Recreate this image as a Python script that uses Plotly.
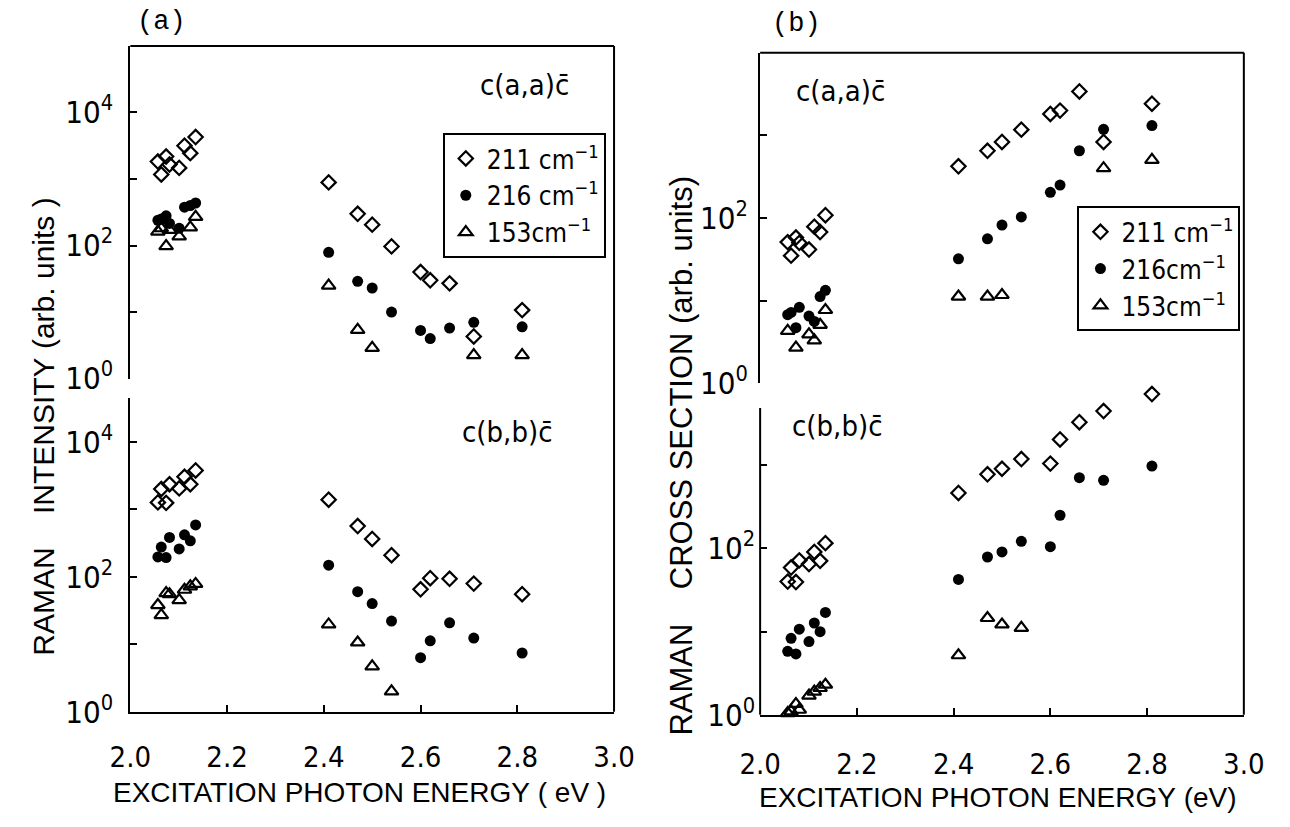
import plotly.graph_objects as go

W, H = 1290, 827

# Excitation energies (eV): dye-laser lines and ion-laser lines
dye_ev = [2.057, 2.064, 2.074, 2.081, 2.101, 2.112, 2.124, 2.135]
ion_ev = [2.41, 2.47, 2.50, 2.54, 2.60, 2.62, 2.66, 2.71, 2.81]

# (a) Raman intensity, c(a,a)c-bar
int_aa_211 = [1830, 1170, 2180, 1650, 1470, 3170, 2450, 4270] + [890, 300, 206, 97, 40, 30, 27, 4.3, 10.7]
int_aa_216 = [240, 250, 280, 215, 182, 377, 400, 436] + [79, 29, 23, 10, 5.3, 4.0, 5.75, 7.0, 6.0]
int_aa_153 = [162, 182, 98, 172, 137, None, 188, 270] + [25, 5.4, 2.9, None, None, None, None, 2.25, 2.25]

# (a) Raman intensity, c(b,b)c-bar
int_bb_211 = [1260, 1990, 1240, 2340, 2030, 3020, 2340, 3750] + [1380, 563, 362, 208, 65, 95, 93, 79, 55]
int_bb_216 = [196, 274, 192, 382, 258, 417, 340, 585] + [148, 60, 40, 22, 6.3, 11.2, 20.7, 12.3, 7.4]
int_bb_153 = [38, 27, 57, 55, 45, 64, 72, 78] + [19.6, 10.6, 4.7, 2.0, None, None, None, None, None]

# (b) Raman cross section, c(a,a)c-bar
cs_aa_211 = [51, 35, 58, 50, 41.5, 78.5, 67.5, 108] + [422, 650, 830, 1170, 1810, 1990, 3390, 830, 2410]
cs_aa_216 = [6.75, 7.2, 4.7, 8.3, 6.5, 5.6, 11.2, 13.3] + [32, 56, 82, 103, 204, 250, 650, 1180, 1310]
cs_aa_153 = [4.3, None, 2.7, None, 3.9, 3.3, 5.1, 7.7] + [11.2, 11.2, 11.7, None, None, None, None, 400, 505]

# (b) Raman cross section, c(b,b)c-bar
cs_bb_211 = [40, 59, 39.5, 72, 65, 91, 71, 116] + [465, 780, 910, 1190, 1050, 2050, 3300, 4500, 7200]
cs_bb_216 = [5.8, 8.3, 5.4, 10.7, 7.6, 12.7, 10, 17] + [42.5, 79, 91, 122, 105, 251, 710, 660, 980]
cs_bb_153 = [1.05, 1.1, 1.35, 1.15, 1.7, 1.9, 2.1, 2.3] + [5.2, 14.6, 12.2, 11.1, None, None, None, None, None]

energy_ev = dye_ev + ion_ev

x_ticks = [2.0, 2.2, 2.4, 2.6, 2.8, 3.0]
x_ticktext = ["2.0", "2.2", "2.4", "2.6", "2.8", "3.0"]
major_vals = [1, 100, 10000]
major_text = ["10<sup>0</sup>", "10<sup>2</sup>", "10<sup>4</sup>"]
minor_vals = [10, 1000]

mode_names = {"211": "211 cm<sup>\u22121</sup>", "216": "216 cm<sup>\u22121</sup>", "153": "153cm<sup>\u22121</sup>"}
mode_names_b = {"211": "211 cm<sup>\u22121</sup>", "216": "216cm<sup>\u22121</sup>", "153": "153cm<sup>\u22121</sup>"}

NARROW = "Liberation Sans Narrow, DejaVu Sans Condensed, Arial Narrow, Liberation Sans, sans-serif"
WIDE = "Liberation Sans, Arial, DejaVu Sans, sans-serif"
MONO = "Liberation Mono, DejaVu Sans Mono, monospace"
INK = "black"


def fx(p):
    return p / W


def fy(p):
    return 1 - p / H


# frame geometry in pixels: (left, right) and (top, bottom, px per decade)
A_X = (113, 613)
B_X = (764, 1264)
A_UP = (47, 387, 68.0)
A_LO = (407, 727.5, 69.0)
B_UP = (53.8, 391.8, 84.5)
B_LO = (395, 730.7, 85.0)   # plotting area reaches above the drawn axis line
B_LO_LINE_TOP = 417

fig = go.Figure()

markers = {
    "211": dict(symbol="diamond-open", size=11, color=INK, line=dict(width=2.2, color=INK)),
    "216": dict(symbol="circle", size=11, color=INK, line=dict(width=0, color=INK)),
    "153": dict(symbol="triangle-up-open", size=12, color=INK, line=dict(width=2.2, color=INK)),
}

panels = [
    ("x2", "y2", [("211", int_aa_211), ("216", int_aa_216), ("153", int_aa_153)], "legend", mode_names),
    ("x", "y", [("211", int_bb_211), ("216", int_bb_216), ("153", int_bb_153)], None, mode_names),
    ("x4", "y4", [("211", cs_aa_211), ("216", cs_aa_216), ("153", cs_aa_153)], "legend2", mode_names_b),
    ("x3", "y3", [("211", cs_bb_211), ("216", cs_bb_216), ("153", cs_bb_153)], None, mode_names_b),
]

for xa, ya, series, leg, names in panels:
    for key, vals in series:
        fig.add_trace(go.Scatter(
            x=energy_ev, y=vals, mode="markers", xaxis=xa, yaxis=ya,
            marker=markers[key], name=names[key],
            showlegend=leg is not None, legend=leg if leg else "legend",
            cliponaxis=False,
        ))


def xaxis(dom, show, anchor, standoff=20):
    d = dict(domain=[fx(dom[0]), fx(dom[1])], range=[2.0, 3.0], anchor=anchor,
             showgrid=False, zeroline=False)
    if show:
        d.update(showline=True, linewidth=2, linecolor=INK, ticks="inside", ticklen=7,
                 tickwidth=2, tickcolor=INK, tickvals=x_ticks, ticktext=x_ticktext,
                 tickfont=dict(family=NARROW, size=29, color=INK), ticklabelstandoff=standoff)
    else:
        d.update(showline=False, showticklabels=False, ticks="")
    return d


def yaxis(geom, anchor, vals, text, standoff, line=True):
    top, bot, dec = geom
    span = (bot - top) / dec
    return dict(type="log", domain=[fy(bot), fy(top)], range=[0, span], anchor=anchor,
                showgrid=False, zeroline=False, showline=line, linewidth=2, linecolor=INK,
                ticks="inside", ticklen=7, tickwidth=2, tickcolor=INK,
                tickmode="array", tickvals=vals, ticktext=text,
                minor=dict(tickmode="array", tickvals=minor_vals, ticks="inside", ticklen=7,
                           tickwidth=2, tickcolor=INK, showgrid=False),
                tickfont=dict(family=NARROW, size=31, color=INK), ticklabelstandoff=standoff)


legend_style = dict(xanchor="left", yanchor="top", bordercolor=INK, borderwidth=2,
                    bgcolor="white", font=dict(family=NARROW, size=26, color=INK),
                    tracegroupgap=0, itemwidth=32)

fig.update_layout(
    width=W, height=H, margin=dict(l=0, r=0, t=0, b=0),
    paper_bgcolor="white", plot_bgcolor="rgba(0,0,0,0)",
    xaxis=xaxis(A_X, True, "y", 19),
    xaxis2=dict(xaxis(A_X, False, "y2"), matches="x"),
    xaxis3=xaxis(B_X, True, "y3", 22),
    xaxis4=dict(xaxis(B_X, False, "y4"), matches="x3"),
    yaxis=yaxis(A_LO, "x", major_vals, major_text, 9),
    yaxis2=yaxis(A_UP, "x2", major_vals, major_text, 9),
    yaxis3=yaxis(B_LO, "x3", major_vals[:2], major_text[:2], 4, line=False),
    yaxis4=yaxis(B_UP, "x4", major_vals[:2], major_text[:2], 4),
    legend=dict(legend_style, x=fx(436), y=fy(136)),
    legend2=dict(legend_style, x=fx(1092), y=fy(211)),
)

# top and right frame lines of each panel, plus the lower-left axis line of (b)
frame = dict(type="line", xref="paper", yref="paper", line=dict(color=INK, width=2))
for (x0, x1), top, bot in [(A_X, A_UP[0], A_LO[1]), (B_X, B_UP[0], B_LO[1])]:
    fig.add_shape(frame, x0=fx(x0), x1=fx(x1), y0=fy(top), y1=fy(top))
    fig.add_shape(frame, x0=fx(x1), x1=fx(x1), y0=fy(top), y1=fy(bot))
fig.add_shape(frame, x0=fx(B_X[0]), x1=fx(B_X[0]), y0=fy(B_LO_LINE_TOP), y1=fy(B_LO[1]))


def note(text, x, y, size=30, family=NARROW, angle=0):
    fig.add_annotation(text=text, x=fx(x), y=fy(y), xref="paper", yref="paper",
                       showarrow=False, xanchor="center", yanchor="middle", textangle=angle,
                       font=dict(family=family, size=size, color=INK))


cbar = "c\u0304"
sp = "\u00a0"
note("(a)", 145, 22, size=27, family=MONO)
note("(b)", 802, 25, size=27, family=MONO)
note("c(a,a)" + cbar, 520, 87, size=29)
note("c(b,b)" + cbar, 502, 442, size=29)
note("c(a,a)" + cbar, 847, 93, size=29)
note("c(b,b)" + cbar, 843, 435, size=29)
note("RAMAN" + sp * 4 + "INTENSITY" + sp + "(arb." + sp + "units" + sp + ")", 23, 436, size=30,
     family=WIDE, angle=-90)
note("RAMAN" + sp * 4 + "CROSS" + sp + "SECTION" + sp + "(arb." + sp + "units)", 683, 466, size=31,
     family=WIDE, angle=-90)
note("EXCITATION" + sp + "PHOTON" + sp + "ENERGY" + sp + "(" + sp + "eV" + sp + ")", 350, 810, size=28,
     family=WIDE)
note("EXCITATION" + sp + "PHOTON" + sp + "ENERGY" + sp + "(eV)", 1010, 815, size=28, family=WIDE)

fig.write_html("out.html")
